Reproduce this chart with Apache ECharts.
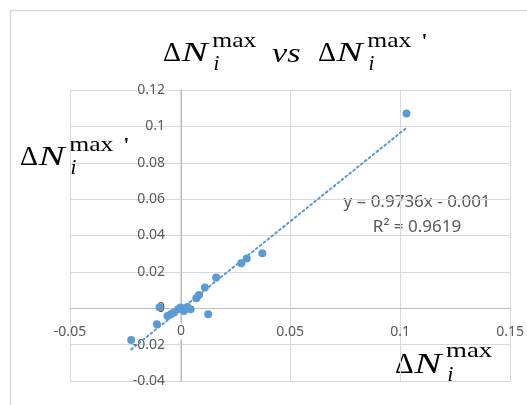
<!DOCTYPE html>
<html>
<head>
<meta charset="utf-8">
<script src="https://cdn.jsdelivr.net/npm/echarts@6/dist/echarts.min.js"></script>
<style>
  html, body { margin: 0; padding: 0; background: #ffffff; }
  #chart { width: 527px; height: 405px; }
</style>
</head>
<body>
<div id="chart"></div>
<script>
// Observed peak differences: each point pairs ΔN_i^max (x) with ΔN_i^max ' (y)
const xValues = [-0.0222, -0.0105, -0.0093, -0.0057, -0.0042, -0.0027, -0.0008, 0.0003, 0.0018, 0.0033,
                 0.0048, 0.0128, 0.0074, 0.0086, 0.0113, 0.0164, 0.0278, 0.0303, 0.0374, 0.1029];
const yValues = [-0.0175, -0.0088, 0.0005, -0.0042, -0.0033, -0.0024, -0.0005, 0.0004, -0.0015, 0.0007,
                 -0.0005, -0.0033, 0.0055, 0.0073, 0.0114, 0.0169, 0.0247, 0.0273, 0.0302, 0.1071];

// Linear fit reported on the chart
const trendSlope = 0.9736;
const trendIntercept = -0.001;
const trendR2 = 0.9619;

// Axis ranges / tick steps
const xRange = [-0.05, 0.15], xStep = 0.05;
const yRange = [-0.04, 0.12], yStep = 0.02;

const points = xValues.map((x, i) => [x, yValues[i]]);
const xMin = Math.min(...xValues), xMax = Math.max(...xValues);
const trendPoints = [xMin, xMax].map(x => [x, trendSlope * x + trendIntercept]);

const BLUE = '#5b9bd5';
const GRID = '#d9d9d9';
const AXIS = '#bfbfbf';
const LABEL = '#595959';
const SERIF = '"Liberation Serif", "DejaVu Serif", serif';
const SANS = '"Noto Sans", "Open Sans", sans-serif';

// Plot rectangle
const W = 527, H = 405;
const gridBox = { left: 70, right: 13, top: 90, bottom: 24 };
const plotW = W - gridBox.left - gridBox.right;
const plotH = H - gridBox.top - gridBox.bottom;
// Shift both axes so they cross at the origin
const xAxisShift = -(0 - yRange[0]) / (yRange[1] - yRange[0]) * plotH;
const yAxisShift = -(0 - xRange[0]) / (xRange[1] - xRange[0]) * plotW;
const originX = gridBox.left - yAxisShift;
const originY = H - gridBox.bottom + xAxisShift;
const xLabelMargin = 17;

// Build "ΔN_i^max" (optionally with a trailing prime) from text pieces
function mathSymbol(x, y, size, prime) {
  const small = Math.round(size * 0.76);
  const wide = 1.22;
  const base = { fill: '#000', fontFamily: SERIF, verticalAlign: 'middle', align: 'left' };
  const parts = [
    { type: 'text', x: x, y: y, style: Object.assign({}, base, { text: 'Δ', fontSize: size }) },
    { type: 'text', x: x + size * 0.66, y: y, scaleX: 1.4,
      style: Object.assign({}, base, { text: 'N', fontSize: size, fontStyle: 'italic' }) },
    { type: 'text', x: x + size * 1.76, y: y - size * 0.46, scaleX: wide,
      style: Object.assign({}, base, { text: 'max', fontSize: small }) },
    { type: 'text', x: x + size * 1.8, y: y + size * 0.36,
      style: Object.assign({}, base, { text: 'i', fontSize: small, fontStyle: 'italic' }) }
  ];
  if (prime) {
    parts.push({ type: 'text', x: x + size * 3.7, y: y - size * 0.4,
      style: Object.assign({}, base, { text: "'", fontSize: small, fontWeight: 'bold' }) });
  }
  return parts;
}

const titleSize = 28;
const graphics = [
  { type: 'rect', z: -10, shape: { x: 10.5, y: 10.5, width: 540, height: 420 },
    style: { fill: null, stroke: GRID, lineWidth: 1.5 } }
]
  .concat(mathSymbol(163, 54, titleSize, false))
  .concat([{ type: 'text', x: 272, y: 55, scaleX: 1.22,
    style: { text: 'vs', fontSize: titleSize, fontStyle: 'italic', fontFamily: SERIF, fill: '#000', verticalAlign: 'middle' } }])
  .concat(mathSymbol(318, 54, titleSize, true))
  .concat(mathSymbol(20, 158, titleSize, true))
  .concat(mathSymbol(395, 365, 29, false))
  .concat([
    { type: 'text', x: 417, y: 202,
      style: { text: 'y = ' + trendSlope + 'x - ' + Math.abs(trendIntercept), fontSize: 17, fontFamily: SANS,
               fill: LABEL, align: 'center', verticalAlign: 'middle' } },
    { type: 'text', x: 417, y: 227,
      style: { text: 'R² = ' + trendR2, fontSize: 17, fontFamily: SANS,
               fill: LABEL, align: 'center', verticalAlign: 'middle' } },
    // origin tick label of the horizontal axis, knocked out of the vertical axis line
    { type: 'text', x: originX, y: originY + xLabelMargin - 2, z: 10,
      style: { text: '0', fontSize: 14, fontFamily: SANS, fill: LABEL, align: 'center', verticalAlign: 'top',
               backgroundColor: '#ffffff', padding: [1, 2, 1, 2] } }
  ]);

const fmt = v => String(+v.toFixed(4));

const chart = echarts.init(document.getElementById('chart'), null, { renderer: 'canvas' });
chart.setOption({
  animation: false,
  backgroundColor: '#ffffff',
  grid: Object.assign({ containLabel: false }, gridBox),
  xAxis: {
    type: 'value', min: xRange[0], max: xRange[1], interval: xStep,
    position: 'bottom', offset: xAxisShift,
    axisLine: { onZero: false, lineStyle: { color: AXIS, width: 1 } },
    axisTick: { show: false },
    splitLine: { show: true, lineStyle: { color: GRID, width: 1 } },
    axisLabel: { color: LABEL, fontSize: 14, fontFamily: SANS, margin: xLabelMargin,
                 formatter: v => (v === 0 ? '' : fmt(v)) }
  },
  yAxis: {
    type: 'value', min: yRange[0], max: yRange[1], interval: yStep,
    position: 'left', offset: yAxisShift,
    axisLine: { onZero: false, lineStyle: { color: AXIS, width: 1 } },
    axisTick: { show: false },
    splitLine: { show: true, lineStyle: { color: GRID, width: 1 } },
    axisLabel: { color: LABEL, fontSize: 14, fontFamily: SANS, margin: 16, formatter: fmt }
  },
  series: [
    {
      type: 'line',
      data: trendPoints,
      symbol: 'none',
      silent: true,
      z: 1,
      lineStyle: { color: BLUE, width: 2, type: [2, 3], cap: 'round' }
    },
    {
      type: 'scatter',
      data: points,
      symbol: 'circle',
      symbolSize: 8,
      z: 2,
      itemStyle: { color: BLUE, opacity: 1 }
    }
  ],
  graphic: graphics
});
</script>
</body>
</html>
